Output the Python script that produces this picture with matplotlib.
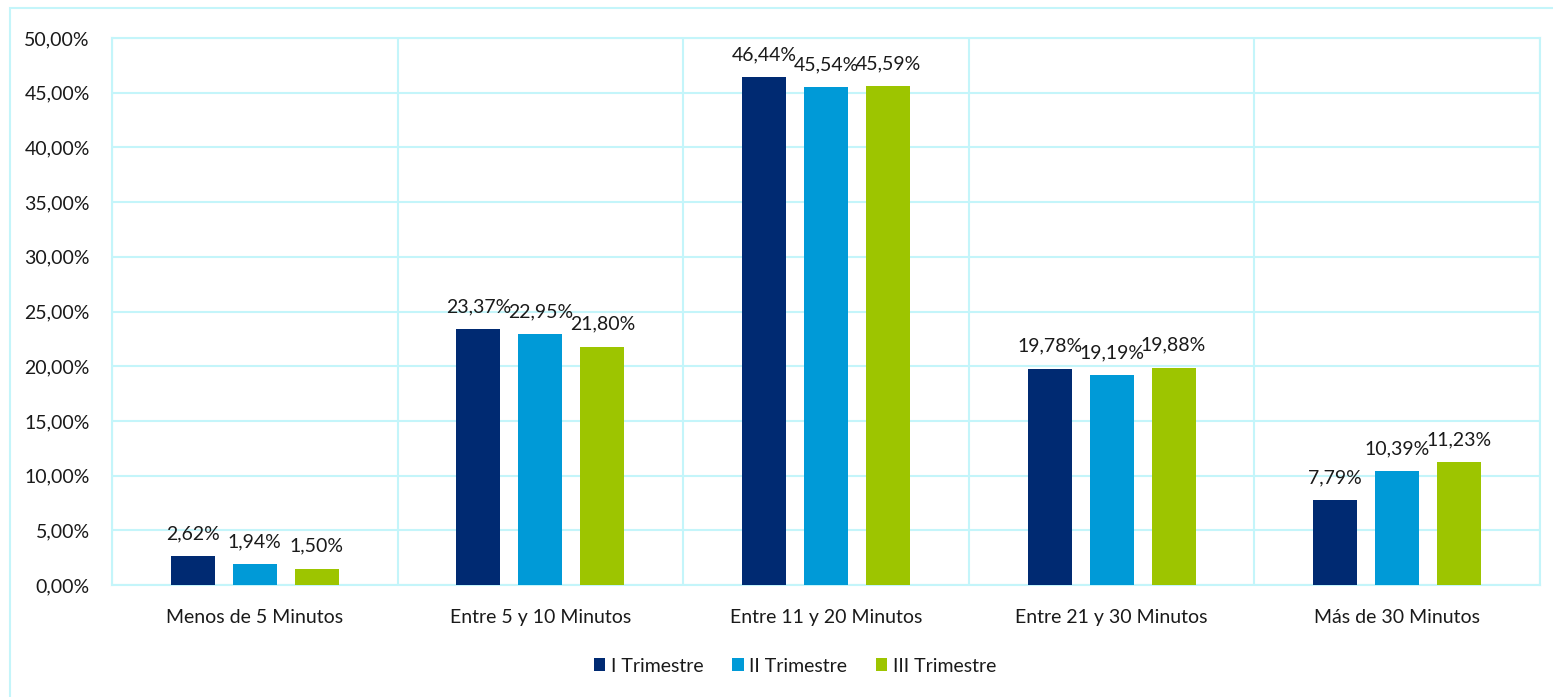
import matplotlib
matplotlib.use("Agg")
import matplotlib.pyplot as plt
from matplotlib.patches import Rectangle
from matplotlib.ticker import FuncFormatter
import numpy as np

categories = ["Menos de 5 Minutos", "Entre 5 y 10 Minutos", "Entre 11 y 20 Minutos",
              "Entre 21 y 30 Minutos", "Más de 30 Minutos"]
series_names = ["I Trimestre", "II Trimestre", "III Trimestre"]
trim1 = [2.62, 23.37, 46.44, 19.78, 7.79]
trim2 = [1.94, 22.95, 45.54, 19.19, 10.39]
trim3 = [1.50, 21.80, 45.59, 19.88, 11.23]
colors = ["#002A72", "#009AD7", "#9DC500"]
grid_color = "#C4F5FA"

plt.rcParams['font.family'] = ['Lato', 'DejaVu Sans']

fig = plt.figure(figsize=(15.53, 6.97), dpi=100)
ax = fig.add_axes([112/1553, 1-585/697, (1540-112)/1553, (585-38)/697])

# outer frame
fig.patches.append(Rectangle((10/1553, -0.1), 1.2, 1 - 8/697 + 0.1, transform=fig.transFigure,
                             fill=False, edgecolor=grid_color, linewidth=1.5, zorder=0))

x = np.arange(len(categories))
w = 0.154
step = 0.217
for i, (vals, name, c) in enumerate(zip([trim1, trim2, trim3], series_names, colors)):
    pos = x + (i - 1) * step
    bars = ax.bar(pos, vals, width=w, color=c, label=name, zorder=3)
    for xb, v in zip(pos, vals):
        ax.annotate(f"{v:.2f}%".replace(".", ","), (xb, v), xytext=(0, 10),
                    textcoords="offset points", ha="center", va="bottom",
                    fontsize=14, color="#1a1a1a", zorder=4)

ax.set_xlim(-0.5, len(categories) - 0.5)
ax.set_ylim(0, 50)
ax.set_yticks(np.arange(0, 50.1, 5))
ax.yaxis.set_major_formatter(FuncFormatter(lambda v, p: f"{v:.2f}%".replace(".", ",")))
ax.set_xticks(x)
ax.set_xticklabels(categories)
ax.tick_params(axis="both", length=0, labelsize=14, colors="#1a1a1a")
ax.tick_params(axis="y", pad=16)
ax.tick_params(axis="x", pad=17)

ax.set_xticks(np.arange(-0.5, len(categories), 1), minor=True)
ax.tick_params(axis="x", which="minor", length=0)
ax.grid(axis="y", which="major", color=grid_color, linewidth=1.5, zorder=0)
ax.grid(axis="x", which="minor", color=grid_color, linewidth=1.5, zorder=0)
ax.grid(axis="x", which="major", visible=False)
for s in ax.spines.values():
    s.set_color(grid_color)
    s.set_linewidth(1.5)

leg = fig.legend(loc="center", bbox_to_anchor=(795/1553, 1 - 666/697), ncol=3, frameon=False,
                 fontsize=14, handlelength=0.6, handleheight=0.6, handletextpad=0.3,
                 columnspacing=1.45)
for t in leg.get_texts():
    t.set_color("#1a1a1a")

fig.savefig("out.png", dpi=100)
